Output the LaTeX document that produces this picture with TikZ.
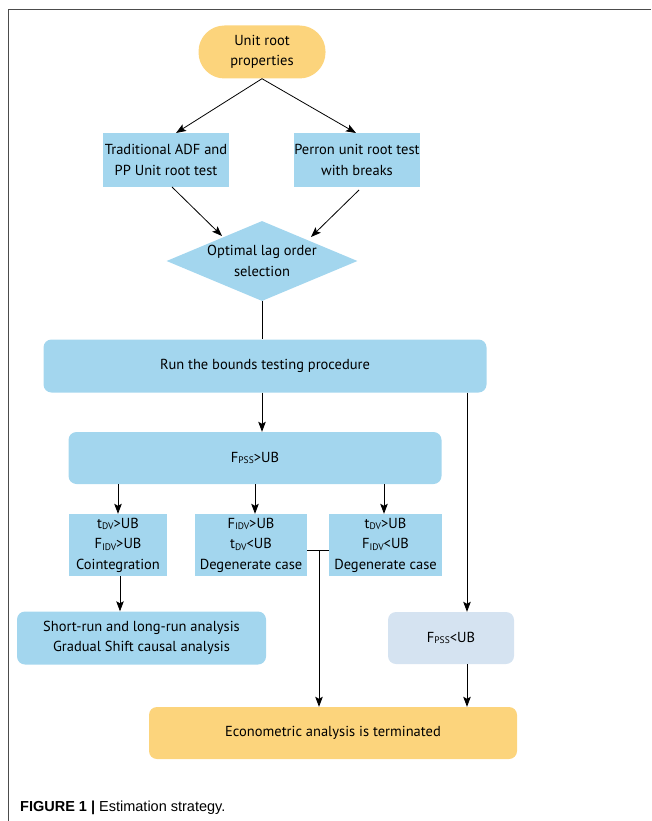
\documentclass[tikz,border=0pt]{standalone}
\usepackage{fontspec}
\setmainfont{PT Sans}
\newfontfamily\capfont{Liberation Sans}
\usetikzlibrary{shapes.geometric,arrows.meta}
\definecolor{skyblue}{HTML}{A3D6EE}
\definecolor{paleblue}{HTML}{D5E3F1}
\definecolor{sandy}{HTML}{FCD47C}
\newcommand{\lo}[1]{\raisebox{-0.25ex}{\fontsize{9.5}{9.5}\selectfont #1}}
\tikzset{
  box/.style={fill=skyblue, inner sep=0pt, align=center, font=\fontsize{14.5}{20.5}\selectfont},
  rbox/.style={box, rounded corners=8pt},
  link/.style={line width=0.8pt, -{Stealth[length=10pt,width=7.5pt,inset=2pt]}},
}
\begin{document}
\begin{tikzpicture}[x=1pt,y=-1pt]
    \useasboundingbox (0,0) rectangle (651,821);
    \draw [line width=1pt,black!70] (8,821)--(8,10)--(651,10);
    % nodes
    \node[box, fill=sandy, rounded corners=26pt, minimum width=127pt, minimum height=53pt] (root) at (262,52) {Unit root\\properties};
    \node[box, minimum width=126pt, minimum height=54pt] (adf) at (166,160) {Traditional ADF and\\PP Unit root test};
    \node[box, minimum width=126pt, minimum height=54pt] (perron) at (357,160) {Perron unit root test\\with breaks};
    \node[box, shape=diamond, aspect=2.4, minimum width=191pt, minimum height=80pt] (lag) at (262,261) {Optimal lag order\\selection};
    \node[rbox, minimum width=443pt, minimum height=53pt] (run) at (265,366) {Run the bounds testing procedure};
    \node[rbox, minimum width=373pt, minimum height=52pt] (fup) at (255,458) {F\lo{PSS}>UB};
    \node[box, minimum width=98pt, minimum height=62pt] (c1) at (118,545) {t\lo{DV}>UB\\F\lo{IDV}>UB\\Cointegration};
    \node[box, minimum width=112pt, minimum height=62pt] (c2) at (251,545) {F\lo{IDV}>UB\\t\lo{DV}<UB\\Degenerate case};
    \node[box, minimum width=113pt, minimum height=62pt] (c3) at (385.5,545) {t\lo{DV}>UB\\F\lo{IDV}<UB\\Degenerate case};
    \node[rbox, minimum width=249pt, minimum height=53pt] (short) at (141.5,638) {Short-run and long-run analysis\\Gradual Shift causal analysis};
    \node[rbox, fill=paleblue, minimum width=126pt, minimum height=52pt] (fdown) at (451,638) {F\lo{PSS}<UB};
    \node[rbox, fill=sandy, minimum width=368pt, minimum height=52pt] (stop) at (333,733) {Econometric analysis is terminated};
    \coordinate (jn) at (319,550);
    \coordinate (rx) at (467,0);
    % connectors
    \draw[link] (root.south) -- (176,133);
    \draw[link] (root.south) -- (356,133);
    \draw[link] (172,187) -- (222,236);
    \draw[link] (359,190) -- (311,237);
    \draw[line width=0.8pt] (lag.south) -- (lag.south |- run.north);
    \draw[link] (run.south -| lag.south) -- (fup.north -| lag.south);
    \draw[link] (run.south -| rx) -- (fdown.north -| rx);
    \draw[link] (fup.south -| c1.north) -- (c1.north);
    \draw[link] (fup.south -| 255,0) -- (c2.north -| 255,0);
    \draw[link] (fup.south -| 384,0) -- (c3.north -| 384,0);
    \draw[link] (c1.south -| 120,0) -- (short.north -| 120,0);
    \draw[line width=0.8pt] (c2.east |- jn) -- (c3.west |- jn);
    \draw[link] (jn) -- (stop.north -| jn);
    \draw[link] (fdown.south -| rx) -- (stop.north -| rx);
    % caption
    \node[anchor=base west, inner sep=0pt, font=\capfont\fontsize{14.5}{14.5}\selectfont] (cap) at (20,811) {\textbf{FIGURE 1 |} Estimation strategy.};
\end{tikzpicture}
\end{document}
